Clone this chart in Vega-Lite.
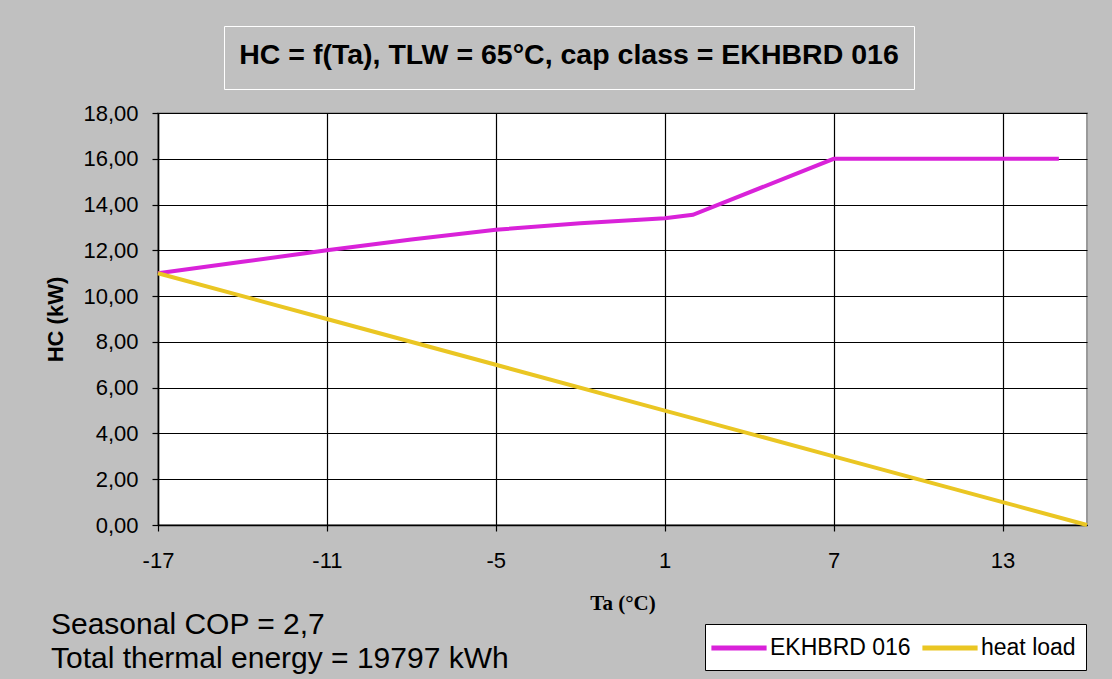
{
  "$schema": "https://vega.github.io/schema/vega-lite/v6.json",
  "width": 929,
  "height": 412,
  "autosize": "none",
  "padding": {"left": 158, "top": 113, "right": 25, "bottom": 154},
  "background": "#c0c0c0",
  "config": {
    "font": "Liberation Sans",
    "view": {"stroke": "#9a9a9a", "strokeWidth": 2, "fill": "white"},
    "axis": {
      "labelFont": "Liberation Sans",
      "labelFontSize": 22,
      "labelColor": "#000",
      "domainColor": "#000",
      "domainWidth": 1.5,
      "tickColor": "#000",
      "tickSize": 6,
      "tickWidth": 1.2,
      "gridColor": "#000",
      "gridWidth": 1.2,
      "gridOpacity": 1,
      "titleColor": "#000",
      "labelFlush": false,
      "labelOverlap": false
    }
  },
  "title": {
    "text": ["Seasonal COP = 2,7", "Total thermal energy = 19797 kWh"],
    "orient": "bottom",
    "anchor": "start",
    "frame": "bounds",
    "fontSize": 30,
    "fontWeight": "normal",
    "font": "Liberation Sans",
    "lineHeight": 34,
    "color": "#000",
    "offset": -61,
    "dx": 6
  },
  "data": {
    "values": [
      {"series": "EKHBRD 016", "Ta": -17, "HC": 11.0},
      {"series": "EKHBRD 016", "Ta": -14, "HC": 11.5},
      {"series": "EKHBRD 016", "Ta": -11, "HC": 12.0},
      {"series": "EKHBRD 016", "Ta": -8, "HC": 12.47},
      {"series": "EKHBRD 016", "Ta": -5, "HC": 12.9},
      {"series": "EKHBRD 016", "Ta": -2, "HC": 13.18},
      {"series": "EKHBRD 016", "Ta": 1, "HC": 13.4},
      {"series": "EKHBRD 016", "Ta": 2, "HC": 13.55},
      {"series": "EKHBRD 016", "Ta": 7, "HC": 16.0},
      {"series": "EKHBRD 016", "Ta": 10, "HC": 16.0},
      {"series": "EKHBRD 016", "Ta": 13, "HC": 16.0},
      {"series": "EKHBRD 016", "Ta": 15, "HC": 16.0},
      {"series": "heat load", "Ta": -17, "HC": 11.0},
      {"series": "heat load", "Ta": -11, "HC": 9.0},
      {"series": "heat load", "Ta": -5, "HC": 7.0},
      {"series": "heat load", "Ta": 1, "HC": 5.0},
      {"series": "heat load", "Ta": 7, "HC": 3.0},
      {"series": "heat load", "Ta": 13, "HC": 1.0},
      {"series": "heat load", "Ta": 16, "HC": 0.0}
    ]
  },
  "encoding": {
    "x": {
      "field": "Ta",
      "type": "quantitative",
      "scale": {"domain": [-17, 16], "nice": false, "zero": false},
      "axis": {
        "values": [-17, -11, -5, 1, 7, 13],
        "labelExpr": "'' + datum.value",
        "labelPadding": 19,
        "title": "Ta (°C)",
        "titleFont": "Liberation Serif",
        "titleFontSize": 21,
        "titleFontWeight": "bold",
        "titlePadding": 21
      }
    },
    "y": {
      "field": "HC",
      "type": "quantitative",
      "scale": {"domain": [0, 18], "nice": false},
      "axis": {
        "values": [0, 2, 4, 6, 8, 10, 12, 14, 16, 18],
        "labelExpr": "replace(format(datum.value, '.2f'), '.', ',')",
        "labelPadding": 14,
        "title": "HC (kW)",
        "titleFont": "Liberation Sans",
        "titleFontSize": 22,
        "titleFontWeight": "bold",
        "titlePadding": 15
      }
    }
  },
  "layer": [
    {
      "mark": {"type": "line", "strokeWidth": 4},
      "encoding": {
        "color": {
          "field": "series",
          "type": "nominal",
          "scale": {"domain": ["EKHBRD 016", "heat load"], "range": ["#d922d9", "#eac623"]},
          "legend": {
            "orient": "none",
            "legendX": 547,
            "legendY": 511,
            "direction": "horizontal",
            "title": null,
            "fillColor": "white",
            "strokeColor": "black",
            "padding": 10,
            "labelFont": "Liberation Sans",
            "labelFontSize": 23,
            "labelColor": "#000",
            "labelLimit": 400,
            "labelOffset": 17,
            "columnPadding": 1,
            "symbolType": "M-2.4,0H2.4",
            "symbolSize": 529,
            "symbolOffset": 10,
            "symbolStrokeWidth": 5
          }
        }
      }
    },
    {
      "mark": {"type": "point", "opacity": 0},
      "encoding": {
        "shape": {
          "datum": "chart title",
          "legend": {
            "orient": "none",
            "legendX": 66,
            "legendY": -87,
            "title": "HC = f(Ta), TLW = 65°C, cap class = EKHBRD 016",
            "titleFont": "Liberation Sans",
            "titleFontSize": 28.5,
            "titleFontWeight": "bold",
            "titleColor": "#000",
            "titleAnchor": "middle",
            "titlePadding": 3.5,
            "titleLimit": 1000,
            "padding": 15,
            "strokeColor": "white",
            "labelExpr": "''",
            "labelFontSize": 1,
            "symbolOpacity": 0,
            "symbolSize": 0,
            "symbolStrokeWidth": 0,
            "encode": {
              "legend": {"update": {"strokeWidth": {"value": 6}}}
            }
          }
        }
      }
    }
  ]
}
